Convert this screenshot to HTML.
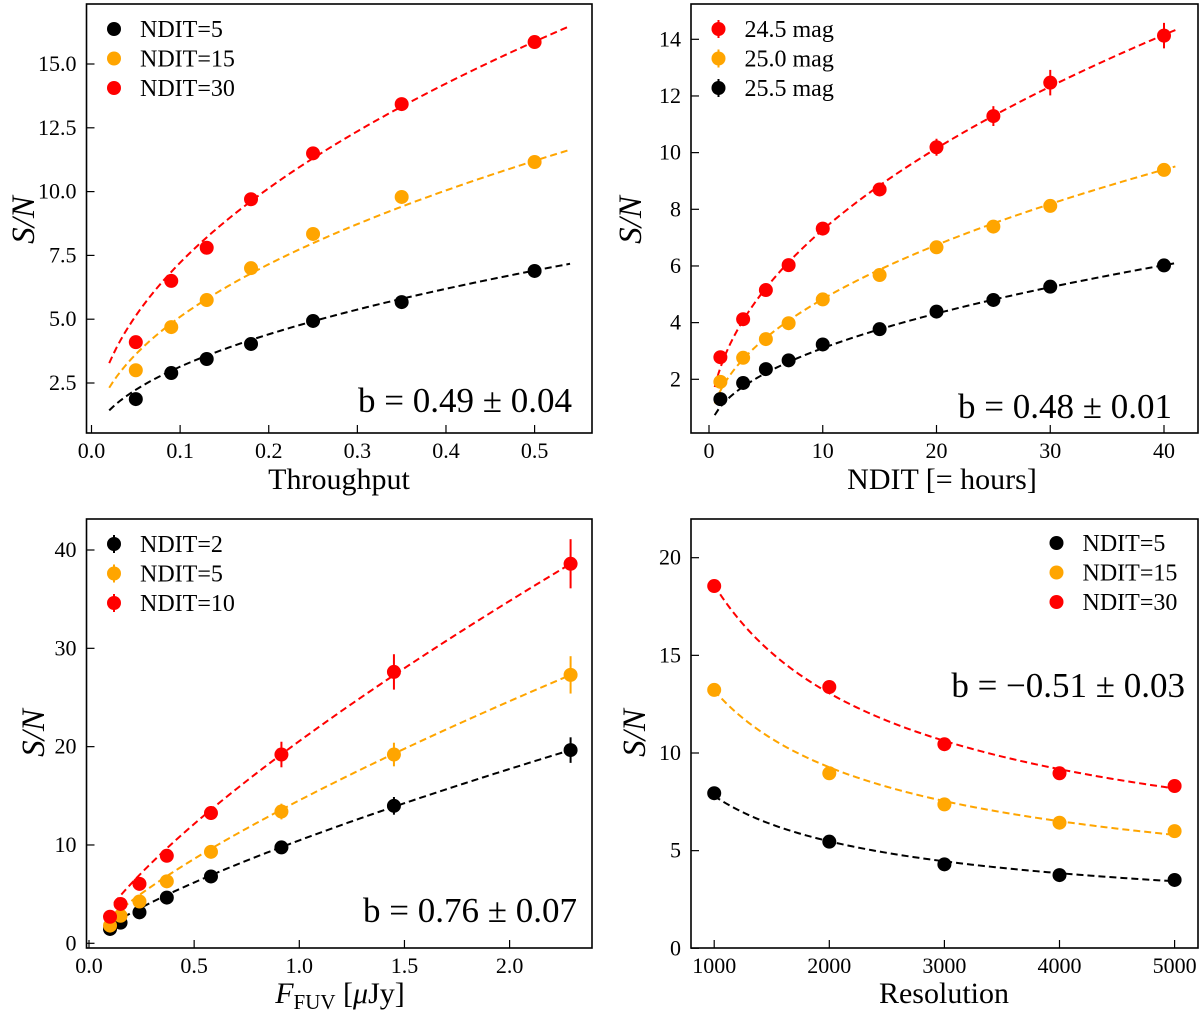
<!DOCTYPE html>
<html><head><meta charset="utf-8">
<style>
html,body{margin:0;padding:0;background:#fff;}
svg{display:block;font-family:"Liberation Serif","DejaVu Serif",serif;}
</style></head>
<body>
<svg id="fig" width="1200" height="1016" viewBox="0 0 1200 1016" xmlns="http://www.w3.org/2000/svg"></svg>
<script>
// ---- Panel A: Throughput ----
const aX = [0.05,0.09,0.13,0.18,0.25,0.35,0.5];
const aBlack = [1.87,2.89,3.44,4.03,4.93,5.67,6.89];
const aOrange = [3.0,4.69,5.75,7.0,8.34,9.79,11.16];
const aRed = [4.1,6.5,7.8,9.7,11.5,13.43,15.86];
const aFitCoef = [9.7,15.74,22.3];
const aFitExp = [0.49,0.49,0.49];
const aXTicks = [0,0.1,0.2,0.3,0.4,0.5];
const aXTickLabels = ["0.0","0.1","0.2","0.3","0.4","0.5"];
const aYTicks = [2.5,5,7.5,10,12.5,15];
const aYTickLabels = ["2.5","5.0","7.5","10.0","12.5","15.0"];
const aLegend = ["NDIT=5","NDIT=15","NDIT=30"];
// ---- Panel B: NDIT ----
const bX = [1,3,5,7,10,15,20,25,30,40];
const bRed = [2.78,4.12,5.15,6.03,7.32,8.7,10.19,11.29,12.47,14.13];
const bRedErr = [0.15,0.15,0.15,0.15,0.15,0.15,0.3,0.35,0.45,0.45];
const bOrange = [1.91,2.76,3.42,3.98,4.82,5.68,6.66,7.39,8.12,9.39];
const bBlack = [1.3,1.87,2.36,2.67,3.23,3.77,4.39,4.8,5.27,6.02];
const bFitCoef = [2.41,1.60,1.026];
const bFitExp = [0.48,0.48,0.48];
const bXTicks = [0,10,20,30,40];
const bYTicks = [2,4,6,8,10,12,14];
const bLegend = ["24.5 mag","25.0 mag","25.5 mag"];
// ---- Panel C: F_FUV ----
const cX = [0.1,0.15,0.24,0.37,0.58,0.915,1.45,2.29];
const cBlack = [1.46,2.1,3.15,4.65,6.8,9.75,13.98,19.65];
const cBlackErr = [0.3,0.3,0.3,0.3,0.4,0.6,0.9,1.3];
const cOrange = [1.8,2.8,4.25,6.3,9.3,13.4,19.2,27.3];
const cOrangeErr = [0.3,0.3,0.3,0.4,0.5,0.8,1.2,1.9];
const cRed = [2.7,4.0,6.05,8.9,13.25,19.2,27.6,38.6];
const cRedErr = [0.3,0.3,0.4,0.5,0.7,1.3,1.8,2.5];
const cFitCoef = [10.47,14.54,20.56];
const cFitExp = [0.76,0.76,0.76];
const cXTicks = [0,0.5,1,1.5,2];
const cXTickLabels = ["0.0","0.5","1.0","1.5","2.0"];
const cYTicks = [0,10,20,30,40];
const cLegend = ["NDIT=2","NDIT=5","NDIT=10"];
// ---- Panel D: Resolution ----
const dX = [1000,2000,3000,4000,5000];
const dBlack = [7.94,5.46,4.3,3.75,3.5];
const dOrange = [13.23,8.96,7.37,6.43,6.0];
const dRed = [18.55,13.38,10.45,8.96,8.31];
const dFitCoef = [7.8,13.2,18.6];
const dFitExp = [-0.51,-0.51,-0.51];
const dXTicks = [1000,2000,3000,4000,5000];
const dYTicks = [0,5,10,15,20];
const dLegend = ["NDIT=5","NDIT=15","NDIT=30"];

const NS = "http://www.w3.org/2000/svg";
const svg = document.getElementById('fig');
const BLACK="#000", ORANGE="#ffa500", RED="#ff0000";
function mk(tag, attrs, parent, text){
  const e=document.createElementNS(NS,tag);
  for(const k in attrs) e.setAttribute(k,attrs[k]);
  if(text!==undefined) e.textContent=text;
  (parent||svg).appendChild(e); return e;
}
function scale(d0,d1,r0,r1){return v=>r0+(v-d0)*(r1-r0)/(d1-d0);}

function panel(p){
  const g=mk('g',{});
  
  
  const sx=scale(p.xd[0],p.xd[1],p.xr[0],p.xr[1]);
  const sy=scale(p.yd[0],p.yd[1],p.yr[0],p.yr[1]);
  p.fits.forEach((f,i)=>{
    let d="";
    for(let k=0;k<=120;k++){
      const x=f.x0+(f.x1-f.x0)*k/120;
      const y=f.a*Math.pow(f.norm?x/f.norm:x,f.b);
      d+=(k?"L":"M")+sx(x).toFixed(2)+","+sy(y).toFixed(2);
    }
    const l=mk('path',{d:d,fill:'none',stroke:f.c,'stroke-width':2,'stroke-dasharray':'7,4'},g);
    
    
  });
  p.series.forEach(s=>{
    s.y.forEach((v,i)=>{
      const cx=sx(p.x[i]), cy=sy(v);
      if(s.err){
        const e=mk('line',{x1:cx,x2:cx,y1:sy(v-s.err[i]),y2:sy(v+s.err[i]),stroke:s.c,'stroke-width':2},g);
        
        
      }
      const c=mk('circle',{cx:cx,cy:cy,r:7,fill:s.c},g);
      
      
    });
  });
  const fr=mk('rect',{x:p.frame[0],y:p.frame[1],width:p.frame[2]-p.frame[0],height:p.frame[3]-p.frame[1],fill:'none',stroke:'#000','stroke-width':1.6},g);
  
  
  p.xt.forEach((t,i)=>{
    const x=sx(t);
    mk('line',{x1:x,x2:x,y1:p.frame[3],y2:p.frame[3]-8,stroke:'#000','stroke-width':1.2},g);
    const tl=mk('text',{x:x,y:p.frame[3]+25,'font-size':22,'text-anchor':'middle'},g,p.xtl?p.xtl[i]:String(t));
    
    
  });
  p.yt.forEach((t,i)=>{
    const y=sy(t);
    mk('line',{x1:p.frame[0],x2:p.frame[0]+8,y1:y,y2:y,stroke:'#000','stroke-width':1.2},g);
    const tl=mk('text',{x:p.frame[0]-10,y:y+7,'font-size':22,'text-anchor':'end'},g,p.ytl?p.ytl[i]:String(t));
    
    
  });
  const xt=mk('text',{x:p.xtitle[1],y:p.xtitle[2],'font-size':30,'text-anchor':'middle'},g);
  
  
  if(p.xtitle[0]==='FUV'){
    mk('tspan',{'font-style':'italic'},xt,'F');
    mk('tspan',{'font-size':21,dy:6},xt,'FUV');
    mk('tspan',{dy:-6},xt,' [');
    mk('tspan',{'font-style':'italic'},xt,'μ');
    mk('tspan',{},xt,'Jy]');
  } else xt.textContent=p.xtitle[0];
  const yt=mk('text',{x:0,y:0,'font-size':33,'font-style':'italic','text-anchor':'middle',transform:`translate(${p.ytitle[0]},${p.ytitle[1]}) rotate(-90)`},g,'S/N');
  
  
  p.legend.forEach((L,i)=>{
    const ly=p.leg[1]+i*29.5;
    if(p.legErr) mk('line',{x1:p.leg[0],x2:p.leg[0],y1:ly-9,y2:ly+9,stroke:L.c,'stroke-width':2},g);
    const m=mk('circle',{cx:p.leg[0],cy:ly,r:7,fill:L.c},g);
    
    
    const t=mk('text',{x:p.leg[0]+26,y:ly+8,'font-size':24},g,L.t);
    
    
  });
  const bt=mk('text',{x:p.btext[0],y:p.btext[1],'font-size':35,'text-anchor':'end'},g,p.btext[2]);
  
  
}

panel({name:'panel-throughput',frame:[86.5,4,592,433],xd:[0,0.5],xr:[91.5,534.6],yd:[2.5,15],yr:[383,64],
  x:aX,series:[{id:'ndit5',y:aBlack,c:BLACK},{id:'ndit15',y:aOrange,c:ORANGE},{id:'ndit30',y:aRed,c:RED}],
  fits:[{id:'ndit5',a:aFitCoef[0],b:aFitExp[0],x0:0.02,x1:0.54,c:BLACK},{id:'ndit15',a:aFitCoef[1],b:aFitExp[1],x0:0.02,x1:0.54,c:ORANGE},{id:'ndit30',a:aFitCoef[2],b:aFitExp[2],x0:0.02,x1:0.54,c:RED}],
  xt:aXTicks,xtl:aXTickLabels,yt:aYTicks,ytl:aYTickLabels,xtitle:['Throughput',339,489],ytitle:[34,220],
  leg:[114,29],legend:[{t:aLegend[0],c:BLACK},{t:aLegend[1],c:ORANGE},{t:aLegend[2],c:RED}],btext:[572,412,'b = 0.49 ± 0.04']});

panel({name:'panel-ndit',frame:[691,4,1198,433],xd:[0,40],xr:[709,1164],yd:[2,14],yr:[379.3,39.3],
  x:bX,series:[{id:'25.5mag',y:bBlack,c:BLACK},{id:'25.0mag',y:bOrange,c:ORANGE},{id:'24.5mag',y:bRed,c:RED,err:bRedErr}],
  fits:[{id:'24.5mag',a:bFitCoef[0],b:bFitExp[0],x0:0.5,x1:41,c:RED},{id:'25.0mag',a:bFitCoef[1],b:bFitExp[1],x0:0.5,x1:41,c:ORANGE},{id:'25.5mag',a:bFitCoef[2],b:bFitExp[2],x0:0.5,x1:41,c:BLACK}],
  xt:bXTicks,yt:bYTicks,xtitle:['NDIT [= hours]',942,489],ytitle:[641,220],legErr:true,
  leg:[718.5,29],legend:[{t:bLegend[0],c:RED},{t:bLegend[1],c:ORANGE},{t:bLegend[2],c:BLACK}],btext:[1172,418,'b = 0.48 ± 0.01']});

panel({name:'panel-fuv',frame:[86.5,519,592,948],xd:[0,2],xr:[89,509.6],yd:[0,40],yr:[943.3,550],
  x:cX,series:[{id:'ndit2',y:cBlack,c:BLACK,err:cBlackErr},{id:'ndit5',y:cOrange,c:ORANGE,err:cOrangeErr},{id:'ndit10',y:cRed,c:RED,err:cRedErr}],
  fits:[{id:'ndit2',a:cFitCoef[0],b:cFitExp[0],x0:0.12,x1:2.29,c:BLACK},{id:'ndit5',a:cFitCoef[1],b:cFitExp[1],x0:0.12,x1:2.29,c:ORANGE},{id:'ndit10',a:cFitCoef[2],b:cFitExp[2],x0:0.12,x1:2.29,c:RED}],
  xt:cXTicks,xtl:cXTickLabels,yt:cYTicks,xtitle:['FUV',340,1003],ytitle:[44,733],legErr:true,
  leg:[114,544],legend:[{t:cLegend[0],c:BLACK},{t:cLegend[1],c:ORANGE},{t:cLegend[2],c:RED}],btext:[577,922,'b = 0.76 ± 0.07']});

panel({name:'panel-resolution',frame:[691,519,1198,948],xd:[1000,5000],xr:[714.2,1174.6],yd:[0,20],yr:[948.3,557.7],
  x:dX,series:[{id:'ndit5',y:dBlack,c:BLACK},{id:'ndit15',y:dOrange,c:ORANGE},{id:'ndit30',y:dRed,c:RED}],
  fits:[{id:'ndit5',a:dFitCoef[0],b:dFitExp[0],norm:1000,x0:1000,x1:5000,c:BLACK},{id:'ndit15',a:dFitCoef[1],b:dFitExp[1],norm:1000,x0:1000,x1:5000,c:ORANGE},{id:'ndit30',a:dFitCoef[2],b:dFitExp[2],norm:1000,x0:1000,x1:5000,c:RED}],
  xt:dXTicks,yt:dYTicks,xtitle:['Resolution',944,1003],ytitle:[645,733],
  leg:[1056.5,543],legend:[{t:dLegend[0],c:BLACK},{t:dLegend[1],c:ORANGE},{t:dLegend[2],c:RED}],btext:[1185,697,'b = −0.51 ± 0.03']});
</script>
</body></html>
